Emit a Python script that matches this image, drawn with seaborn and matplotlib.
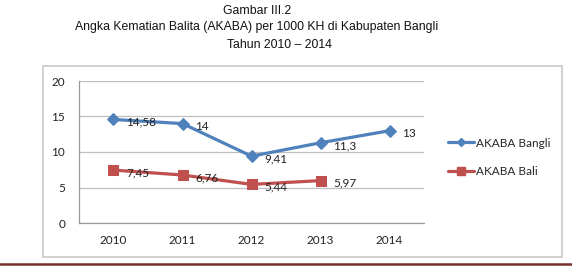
import matplotlib
matplotlib.use("Agg")
import matplotlib.pyplot as plt
import seaborn as sns
import pandas as pd
import numpy as np
from matplotlib.patches import Rectangle
from matplotlib.lines import Line2D

years = ["2010", "2011", "2012", "2013", "2014"]
bangli = [14.58, 14, 9.41, 11.3, 13]
bali = [7.45, 6.76, 5.44, 5.97, np.nan]
bangli_labels = ["14,58", "14", "9,41", "11,3", "13"]
bali_labels = ["7,45", "6,76", "5,44", "5,97", ""]
series_names = ["AKABA Bangli", "AKABA Bali"]
yticks = [0, 5, 10, 15, 20]
title_lines = ["Gambar III.2",
               "Angka Kematian Balita (AKABA) per 1000 KH di Kabupaten Bangli",
               "Tahun 2010 \u2013 2014"]

sns.set_theme(style="white")
plt.rcParams['font.family'] = ['Lato', 'DejaVu Sans']

W, H = 572, 266
fig = plt.figure(figsize=(W / 100, H / 100), dpi=100)

# chart frame
fig.patches.append(Rectangle((43 / W, 1 - 257 / H), (562 - 43) / W, (257 - 66) / H,
                             transform=fig.transFigure, fill=False,
                             edgecolor="#C8C8C8", linewidth=1.2))
# dark red rule at bottom
fig.add_artist(Line2D([0, 1], [1 - 264 / H, 1 - 264 / H], transform=fig.transFigure,
                      color="#7A2E2E", linewidth=1.8))

ax = fig.add_axes([79 / W, 1 - 223 / H, (424 - 79) / W, (223 - 81) / H])

pos = list(range(len(years)))
df = pd.DataFrame({
    "pos": pos * 2,
    "val": bangli + bali,
    "series": [series_names[0]] * len(years) + [series_names[1]] * len(years),
}).dropna()

colors = {series_names[0]: "#4F81BD", series_names[1]: "#C0504D"}
markers = {series_names[0]: "D", series_names[1]: "s"}
sizes = {series_names[0]: 6.5, series_names[1]: 7.5}

for name in series_names:
    sub = df[df["series"] == name]
    sns.lineplot(data=sub, x="pos", y="val", ax=ax, color=colors[name],
                 marker=markers[name], markersize=sizes[name], linewidth=2.3,
                 markeredgecolor=colors[name], label=name, legend=False)

for vals, labs in ((bangli, bangli_labels), (bali, bali_labels)):
    for p, v, t in zip(pos, vals, labs):
        if t:
            ax.annotate(t, (p, v), xytext=(9, -2), textcoords="offset points",
                        ha="left", va="center", fontsize=8.5, color="#222222")

ax.set_xlim(-0.5, len(years) - 0.5)
ax.set_ylim(0, 20)
ax.set_yticks(yticks)
ax.set_yticklabels([str(t) for t in yticks])
ax.set_xticks(pos)
ax.set_xticklabels(years)
ax.tick_params(axis="y", length=0, pad=10, labelsize=8.5, labelcolor="#222222")
ax.tick_params(axis="x", length=0, pad=9, labelsize=8.5, labelcolor="#222222")
ax.set_xlabel("")
ax.set_ylabel("")
ax.grid(axis="y", color="#BFBFBF", linewidth=0.9)
ax.set_axisbelow(True)
for s in ["top", "right"]:
    ax.spines[s].set_visible(False)
ax.spines["left"].set_color("#9A9A9A")
ax.spines["bottom"].set_color("#9A9A9A")
ax.spines["left"].set_linewidth(0.9)
ax.spines["bottom"].set_linewidth(0.9)

handles = [Line2D([], [], color=colors[n], marker=markers[n], markersize=sizes[n] - 2,
                  linewidth=2.3) for n in series_names]
fig.legend(handles, series_names, loc="upper left",
           bbox_to_anchor=(437 / W, 1 - 127 / H), frameon=False,
           fontsize=8.5, handlelength=2.2, handletextpad=0.2, labelspacing=1.5)

tfam = ["Liberation Sans", "DejaVu Sans"]
fig.text(257 / W, 1 - 11 / H, title_lines[0], ha="center", va="center",
         fontsize=8.8, family=tfam, color="#111111")
fig.text(257 / W, 1 - 27 / H, title_lines[1], ha="center", va="center",
         fontsize=8.8, family=tfam, color="#111111")
fig.text(279 / W, 1 - 45 / H, title_lines[2], ha="center", va="center",
         fontsize=8.8, family=tfam, color="#111111")

fig.savefig("out.png", dpi=100)
